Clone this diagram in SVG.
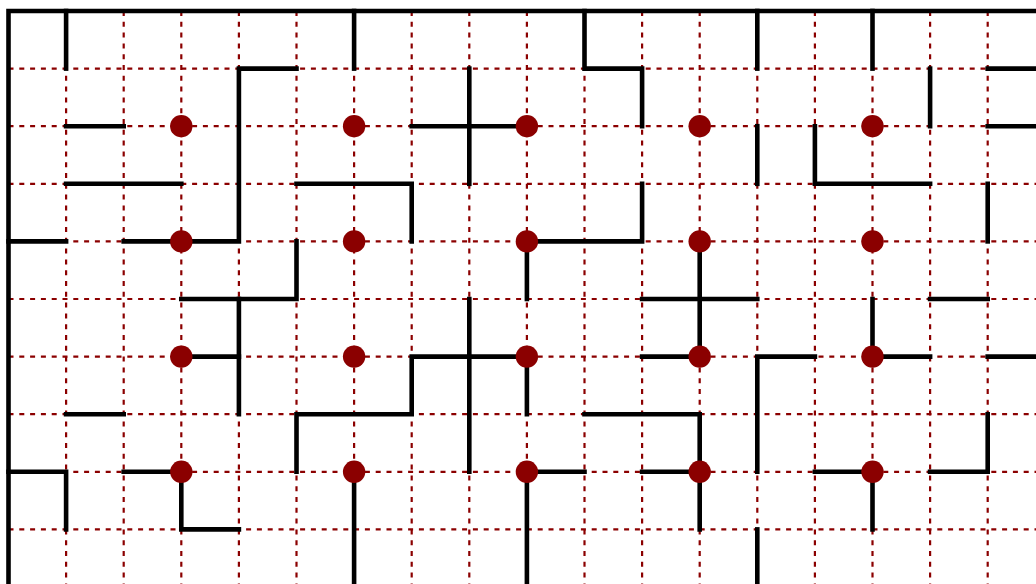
<svg xmlns="http://www.w3.org/2000/svg" width="1036" height="584" viewBox="0 0 1036 584">
<style>
.grid{stroke:#8B0000;stroke-width:2.2;stroke-dasharray:5 5.8;fill:none}
.wall{stroke:#000;stroke-width:4.6;fill:none;stroke-linecap:square;stroke-linejoin:miter}
.dot{fill:#8B0000}
</style>
<rect width="1036" height="584" fill="#fff"/>
<g id="grid" class="grid">
<path d="M66.1 11V590M123.7 11V590M181.3 11V590M238.9 11V590M296.5 11V590M354.1 11V590M411.7 11V590M469.3 11V590M526.9 11V590M584.5 11V590M642.1 11V590M699.7 11V590M757.3 11V590M814.9 11V590M872.5 11V590M930.1 11V590M987.7 11V590"/>
<path d="M8.5 68.6H1040M8.5 126.2H1040M8.5 183.8H1040M8.5 241.4H1040M8.5 299H1040M8.5 356.6H1040M8.5 414.2H1040M8.5 471.8H1040M8.5 529.4H1040"/>
</g>
<g id="walls" class="wall">
<path d="M8.5 590V11H1040"/>
<path d="M66.1 11V68.6"/>
<path d="M354.1 11V68.6"/>
<path d="M584.5 11V68.6H642.1V126.2"/>
<path d="M757.3 11V68.6"/>
<path d="M872.5 11V68.6"/>
<path d="M987.7 68.6H1040"/>
<path d="M930.1 68.6V126.2"/>
<path d="M987.7 126.2H1040"/>
<path d="M66.1 126.2H123.7"/>
<path d="M66.1 183.8H181.3"/>
<path d="M8.5 241.4H66.1"/>
<path d="M123.7 241.4H238.9V68.6H296.5"/>
<path d="M296.5 183.8H411.7V241.4"/>
<path d="M296.5 241.4V299H181.3"/>
<path d="M411.7 126.2H526.9"/>
<path d="M469.3 68.6V183.8"/>
<path d="M526.9 241.4H642.1V183.8"/>
<path d="M526.9 241.4V299"/>
<path d="M757.3 126.2V183.8"/>
<path d="M814.9 126.2V183.8H930.1"/>
<path d="M987.7 183.8V241.4"/>
<path d="M699.7 241.4V356.6"/>
<path d="M642.1 299H757.3"/>
<path d="M642.1 356.6H699.7"/>
<path d="M238.9 299V414.2"/>
<path d="M181.3 356.6H238.9"/>
<path d="M66.1 414.2H123.7"/>
<path d="M8.5 471.8H66.1V529.4"/>
<path d="M123.7 471.8H181.3V529.4H238.9"/>
<path d="M296.5 471.8V414.2H411.7V356.6H526.9V414.2"/>
<path d="M469.3 299V471.8"/>
<path d="M354.1 471.8V590"/>
<path d="M526.9 590V471.8H584.5"/>
<path d="M584.5 414.2H699.7V529.4"/>
<path d="M642.1 471.8H699.7"/>
<path d="M814.9 356.6H757.3V471.8"/>
<path d="M872.5 299V356.6H930.1"/>
<path d="M930.1 299H987.7"/>
<path d="M987.7 356.6H1040"/>
<path d="M987.7 414.2V471.8H930.1"/>
<path d="M814.9 471.8H872.5V529.4"/>
<path d="M757.3 529.4V590"/>
</g>
<g id="dots" class="dot">
<g id="d1"><circle cx="181.3" cy="126.2" r="11.2"/></g>
<g id="d2"><circle cx="354.1" cy="126.2" r="11.2"/></g>
<g id="d3"><circle cx="526.9" cy="126.2" r="11.2"/></g>
<g id="d4"><circle cx="699.7" cy="126.2" r="11.2"/></g>
<g id="d5"><circle cx="872.5" cy="126.2" r="11.2"/></g>
<g id="d6"><circle cx="181.3" cy="241.4" r="11.2"/></g>
<g id="d7"><circle cx="354.1" cy="241.4" r="11.2"/></g>
<g id="d8"><circle cx="526.9" cy="241.4" r="11.2"/></g>
<g id="d9"><circle cx="699.7" cy="241.4" r="11.2"/></g>
<g id="d10"><circle cx="872.5" cy="241.4" r="11.2"/></g>
<g id="d11"><circle cx="181.3" cy="356.6" r="11.2"/></g>
<g id="d12"><circle cx="354.1" cy="356.6" r="11.2"/></g>
<g id="d13"><circle cx="526.9" cy="356.6" r="11.2"/></g>
<g id="d14"><circle cx="699.7" cy="356.6" r="11.2"/></g>
<g id="d15"><circle cx="872.5" cy="356.6" r="11.2"/></g>
<g id="d16"><circle cx="181.3" cy="471.8" r="11.2"/></g>
<g id="d17"><circle cx="354.1" cy="471.8" r="11.2"/></g>
<g id="d18"><circle cx="526.9" cy="471.8" r="11.2"/></g>
<g id="d19"><circle cx="699.7" cy="471.8" r="11.2"/></g>
<g id="d20"><circle cx="872.5" cy="471.8" r="11.2"/></g>
</g>
</svg>
